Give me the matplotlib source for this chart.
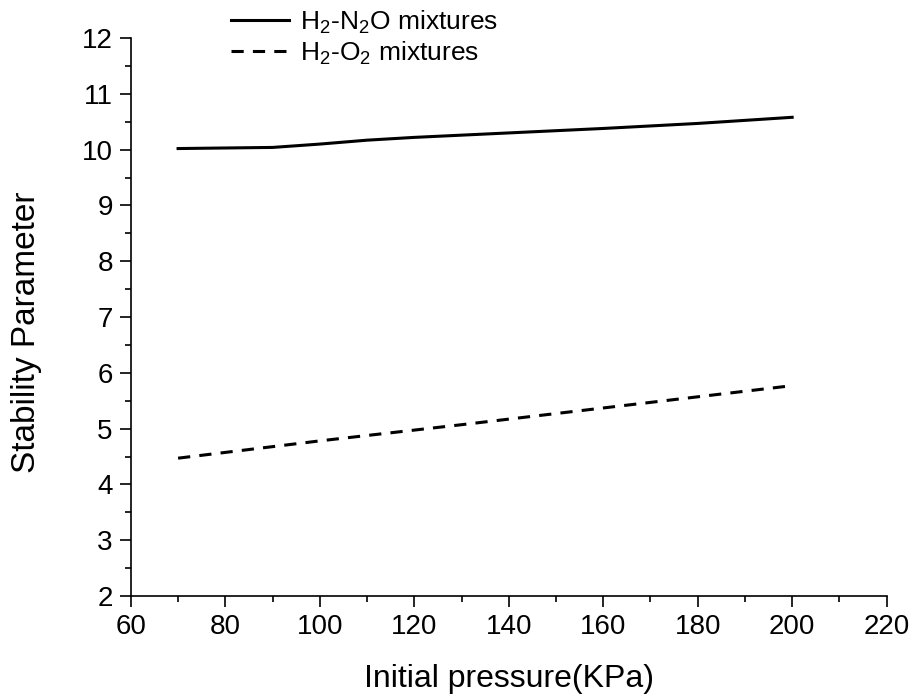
import matplotlib.pyplot as plt
from matplotlib.ticker import MultipleLocator

# data
p_n2o = [70, 80, 90, 100, 110, 120, 140, 160, 180, 200]
s_n2o = [10.02, 10.03, 10.04, 10.10, 10.17, 10.22, 10.30, 10.38, 10.47, 10.58]

p_o2 = [70, 100, 130, 160, 200]
s_o2 = [4.47, 4.78, 5.07, 5.37, 5.77]

plt.rcParams['font.family'] = ['Liberation Sans', 'DejaVu Sans']
plt.rcParams['mathtext.fontset'] = 'custom'
plt.rcParams['mathtext.rm'] = 'Liberation Sans'

fig = plt.figure(figsize=(9.15, 7), dpi=100)
ax = fig.add_axes([0.143, 0.1486, 0.826, 0.797])

ax.plot(p_n2o, s_n2o, color='black', lw=2.2, label=r'H$_\mathregular{2}$-N$_\mathregular{2}$O mixtures')
ax.plot(p_o2, s_o2, color='black', lw=2.2, dashes=(4, 3), label=r'H$_\mathregular{2}$-O$_\mathregular{2}$ mixtures')

ax.set_xlim(60, 220)
ax.set_ylim(2, 12)
ax.xaxis.set_major_locator(MultipleLocator(20))
ax.xaxis.set_minor_locator(MultipleLocator(10))
ax.yaxis.set_major_locator(MultipleLocator(1))
ax.yaxis.set_minor_locator(MultipleLocator(0.5))
ax.tick_params(which='major', length=8, width=1.2, labelsize=20, direction='out', pad=5)
ax.tick_params(which='minor', length=4, width=1.2, direction='out')
ax.spines['top'].set_visible(False)
ax.spines['right'].set_visible(False)
ax.spines['left'].set_linewidth(1.2)
ax.spines['bottom'].set_linewidth(1.2)

ax.set_xlabel('Initial pressure(KPa)', fontsize=23)
ax.set_ylabel('Stability Parameter', fontsize=24)
ax.xaxis.set_label_coords(0.5, -0.122)
ax.yaxis.set_label_coords(-0.118, 0.473)

fig.legend(loc='upper left', bbox_to_anchor=(0.226, 1.022), frameon=False,
           fontsize=19, handlelength=2.2, handletextpad=0.45, labelspacing=0.12)

fig.savefig('out.png', dpi=100)
